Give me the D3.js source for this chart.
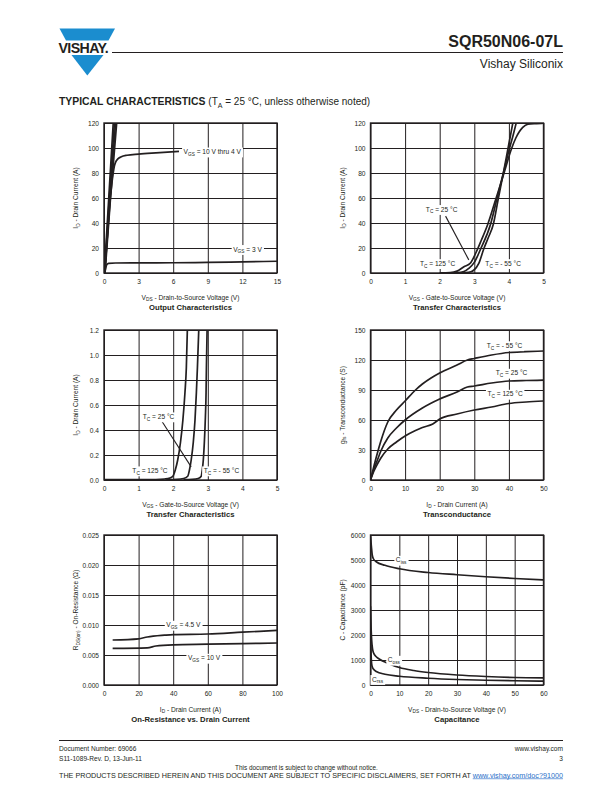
<!DOCTYPE html>
<html><head><meta charset="utf-8">
<script src="https://cdn.jsdelivr.net/npm/d3@7"></script>
<style>
html,body{margin:0;padding:0;background:#fff;}
svg{display:block;font-family:"Liberation Sans",Arial,Helvetica,sans-serif;}
</style></head><body>
<svg id="page" width="612" height="792"></svg>
<script>
// ---------- DATA ----------
// Chart 1: Output Characteristics
const outXTicks = [0, 3, 6, 9, 12, 15];
const outYTicks = [0, 20, 40, 60, 80, 100, 120];
const outVgs10 = [[0.03, 0], [0.4, 58], [0.8, 120]];
const outVgs8 = [[0.05, 0], [0.45, 58], [0.9, 120]];
const outVgs6 = [[0.07, 0], [0.5, 58], [1.0, 120]];
const outVgs5 = [[0.09, 0], [0.55, 58], [1.1, 120]];
const outVgs4 = [[0.05, 0], [0.3, 30], [0.55, 60], [0.7, 73], [0.8, 80], [0.9, 85.5], [1.0, 88.5], [1.2, 91.3], [1.5, 93], [2, 94.2], [3, 95.1], [4.5, 96.1], [6.5, 97.3]];
const outVgs3 = [[0.05, 0], [0.15, 4], [0.25, 6.8], [0.4, 7.7], [1, 8], [3, 8.1], [6, 8.2], [9, 8.5], [12, 8.9], [15, 9.4]];

// Chart 2: Transfer Characteristics (0-120 A)
const tr1XTicks = [0, 1, 2, 3, 4, 5];
const tr1YTicks = [0, 20, 40, 60, 80, 100, 120];
const tr1T125 = [[2.0, 0.2], [2.3, 0.4], [2.5, 1.5], [2.7, 5], [2.89, 8], [3.06, 17], [3.2, 26], [3.39, 39], [3.62, 59], [3.86, 80], [4.07, 99], [4.2, 108], [4.3, 113], [4.4, 116.5], [4.55, 119], [4.8, 119.5], [5, 119.8]];
const tr1T25 = [[2.2, 0.2], [2.5, 0.4], [2.7, 1.2], [2.84, 3.7], [3.0, 8.5], [3.18, 19], [3.47, 39], [3.65, 59], [3.84, 80], [4.01, 99], [4.12, 110], [4.22, 121]];
const tr1Tm55 = [[2.5, 0.2], [2.75, 0.4], [2.9, 1], [2.99, 2.4], [3.13, 7.7], [3.27, 19], [3.4, 28], [3.55, 39], [3.69, 59], [3.84, 80], [3.97, 99], [4.12, 121]];

// Chart 3: Transfer Characteristics (0-1.2 A)
const tr2XTicks = [0, 1, 2, 3, 4, 5];
const tr2YTicks = [0, 0.2, 0.4, 0.6, 0.8, 1.0, 1.2];
const tr2T125 = [[0, 0.004], [1.5, 0.004], [1.75, 0.008], [1.9, 0.015], [1.99, 0.03], [2.06, 0.08], [2.13, 0.16], [2.21, 0.3], [2.28, 0.48], [2.34, 0.7], [2.38, 0.9], [2.41, 1.21]];
const tr2T25 = [[1.8, 0.004], [2.1, 0.006], [2.3, 0.012], [2.42, 0.03], [2.47, 0.08], [2.52, 0.16], [2.58, 0.3], [2.63, 0.48], [2.67, 0.7], [2.70, 0.9], [2.74, 1.21]];
const tr2Tm55 = [[2.3, 0.004], [2.55, 0.006], [2.72, 0.012], [2.81, 0.03], [2.84, 0.08], [2.87, 0.16], [2.9, 0.3], [2.93, 0.5], [2.95, 0.7], [2.96, 0.9], [2.98, 1.21]];

// Chart 4: Transconductance
const gfsXTicks = [0, 10, 20, 30, 40, 50];
const gfsYTicks = [0, 30, 60, 90, 120, 150];
const gfsTm55 = [[0, 0], [1, 14], [2, 27], [3, 39], [5, 58], [7.5, 70], [10, 79], [13, 90], [15, 96], [17.5, 102], [20, 107], [25, 115], [28, 120], [30, 121.5], [35, 125], [40, 127.5], [45, 128.3], [50, 129]];
const gfsT25 = [[0, 0], [1, 11], [2, 20], [3, 29], [5, 42], [7.5, 52], [10, 60], [15, 72], [20, 81], [25, 88], [28, 93], [30, 94], [35, 97], [40, 99], [45, 99.5], [50, 99.8]];
const gfsT125 = [[0, 0], [1, 9], [2, 16], [3, 22], [5, 31], [7.5, 38], [10, 44], [13, 49.5], [15, 52.5], [18, 56], [20, 61], [25, 66], [30, 70], [35, 73], [40, 76.5], [45, 78], [50, 79]];

// Chart 5: On-Resistance vs. Drain Current
const ronXTicks = [0, 20, 40, 60, 80, 100];
const ronYTicks = [0, 0.005, 0.010, 0.015, 0.020, 0.025];
const ronVgs45 = [[5, 0.0075], [20, 0.0077], [25, 0.0080], [35, 0.0083], [40, 0.0084], [60, 0.0085], [80, 0.0088], [100, 0.0091]];
const ronVgs10 = [[5, 0.0061], [25, 0.0062], [30, 0.0065], [40, 0.0067], [60, 0.0068], [80, 0.0069], [100, 0.0070]];

// Chart 6: Capacitance
const capXTicks = [0, 10, 20, 30, 40, 50, 60];
const capYTicks = [0, 1000, 2000, 3000, 4000, 5000, 6000];
const capCiss = [[0, 5950], [0.3, 5550], [0.6, 5200], [1, 5050], [2, 4930], [5, 4790], [10, 4650], [20, 4500], [30, 4410], [40, 4330], [50, 4260], [60, 4200]];
const capCoss = [[0, 3150], [0.2, 2300], [0.4, 1800], [0.7, 1450], [1, 1300], [2, 1130], [3, 1040], [5, 920], [7, 820], [10, 700], [15, 580], [20, 500], [30, 400], [40, 340], [50, 300], [60, 285]];
const capCrss = [[0, 2000], [0.2, 1200], [0.4, 850], [0.7, 700], [1, 640], [2, 540], [5, 430], [10, 350], [20, 270], [30, 220], [40, 190], [50, 170], [60, 155]];

// ---------- DRAWING ----------
const INK = "#231f20";
const svg = d3.select("#page");

function parseRich(str) {
  const parts = [];
  const re = /_\{([^}]*)\}/g;
  let last = 0, m;
  while ((m = re.exec(str)) !== null) {
    if (m.index > last) parts.push([str.slice(last, m.index), false]);
    parts.push([m[1], true]);
    last = re.lastIndex;
  }
  if (last < str.length) parts.push([str.slice(last), false]);
  return parts;
}
function rich(textSel, str, size) {
  let inSub = false;
  parseRich(str).forEach(([s, isSub]) => {
    const ts = textSel.append("tspan").text(s);
    if (isSub) {
      ts.attr("font-size", size * 0.72);
      if (!inSub) ts.attr("dy", size * 0.28);
      inSub = true;
    } else {
      if (inSub) ts.attr("dy", -size * 0.28);
      inSub = false;
    }
  });
  return textSel;
}

let clipId = 0;
function makeChart(cfg) {
  const { x0, y0, W, H } = cfg;
  const x = d3.scaleLinear().domain(cfg.xDomain).range([x0, x0 + W]);
  const y = d3.scaleLinear().domain(cfg.yDomain).range([y0 + H, y0]);
  const g = svg.append("g");

  g.append("g").attr("transform", `translate(0,${y0 + H})`)
    .call(d3.axisBottom(x).tickValues(cfg.xTicks).tickSize(-H).tickPadding(6).tickFormat(cfg.xFmt || d3.format("d")))
    .call(a => {
      a.select(".domain").remove();
      a.selectAll("line").attr("stroke", INK).attr("stroke-width", 1);
      a.selectAll("text").attr("font-size", 6.6).attr("fill", INK).attr("font-family", "Liberation Sans, Arial, sans-serif");
    });
  g.append("g").attr("transform", `translate(${x0},0)`)
    .call(d3.axisLeft(y).tickValues(cfg.yTicks).tickSize(-W).tickPadding(5).tickFormat(cfg.yFmt || d3.format("d")))
    .call(a => {
      a.select(".domain").remove();
      a.selectAll("line").attr("stroke", INK).attr("stroke-width", 1);
      a.selectAll("text").attr("font-size", 6.6).attr("fill", INK).attr("font-family", "Liberation Sans, Arial, sans-serif");
    });

  const cid = "clip" + (clipId++);
  svg.append("clipPath").attr("id", cid).append("rect")
    .attr("x", x0).attr("y", y0).attr("width", W).attr("height", H);

  const line = d3.line().x(d => x(d[0])).y(d => y(d[1])).curve(d3.curveMonotoneX);
  g.append("g").attr("clip-path", `url(#${cid})`)
    .selectAll("path").data(cfg.series).join("path")
    .attr("d", d => line(d))
    .attr("fill", "none").attr("stroke", INK).attr("stroke-width", 1.7)
    .attr("stroke-linejoin", "round");

  (cfg.leaders || []).forEach(l => {
    g.append("line").attr("x1", x(l[0])).attr("y1", y(l[1])).attr("x2", x(l[2])).attr("y2", y(l[3]))
      .attr("stroke", INK).attr("stroke-width", 1.1);
  });

  g.append("rect").attr("x", x0).attr("y", y0).attr("width", W).attr("height", H)
    .attr("fill", "none").attr("stroke", INK).attr("stroke-width", 1.4);

  (cfg.labels || []).forEach(lb => {
    const lg = g.append("g");
    const t = lg.append("text").attr("x", x(lb.x)).attr("y", y(lb.y)).attr("dy", "0.35em")
      .attr("font-size", 6.6).attr("fill", INK).attr("text-anchor", lb.anchor || "start");
    rich(t, lb.text, 6.6);
    const bb = t.node().getBBox();
    lg.insert("rect", "text").attr("x", bb.x - 1.5).attr("y", bb.y - 0.5)
      .attr("width", bb.width + 3).attr("height", bb.height + 1).attr("fill", "#fff");
  });

  const xt = g.append("text").attr("x", x0 + W / 2).attr("y", y0 + H + 26.5)
    .attr("text-anchor", "middle").attr("font-size", 6.6).attr("fill", INK);
  rich(xt, cfg.xTitle, 6.6);
  const yt = g.append("text").attr("transform", `translate(${x0 - 26},${y0 + H / 2}) rotate(-90)`)
    .attr("text-anchor", "middle").attr("font-size", 6.6).attr("fill", INK);
  rich(yt, cfg.yTitle, 6.6);
  g.append("text").attr("x", x0 + W / 2).attr("y", y0 + H + 37)
    .attr("text-anchor", "middle").attr("font-size", 7.7).attr("font-weight", "bold").attr("fill", INK)
    .text(cfg.title);
}

const LX = 104, RX = 370.5, W = 173, H = 150;
const R1 = 123, R2 = 330, R3 = 535;

makeChart({
  x0: LX, y0: R1, W, H, xDomain: [0, 15], yDomain: [0, 120],
  xTicks: outXTicks, yTicks: outYTicks,
  series: [outVgs10, outVgs8, outVgs6, outVgs5, outVgs4, outVgs3],
  labels: [
    { x: 6.9, y: 97, text: "V_{GS} = 10 V thru 4 V" },
    { x: 11.2, y: 19, text: "V_{GS} = 3 V" }
  ],
  xTitle: "V_{DS} - Drain-to-Source Voltage (V)", yTitle: "I_{D} - Drain Current (A)",
  title: "Output Characteristics"
});

makeChart({
  x0: RX, y0: R1, W, H, xDomain: [0, 5], yDomain: [0, 120],
  xTicks: tr1XTicks, yTicks: tr1YTicks,
  series: [tr1T125, tr1T25, tr1Tm55],
  leaders: [[2.17, 45.5, 2.84, 10.5]],
  labels: [
    { x: 1.6, y: 51, text: "T_{C} = 25 °C" },
    { x: 1.43, y: 7.7, text: "T_{C} = 125 °C" },
    { x: 3.32, y: 7.7, text: "T_{C} = - 55 °C" }
  ],
  xTitle: "V_{GS} - Gate-to-Source Voltage (V)", yTitle: "I_{D} - Drain Current (A)",
  title: "Transfer Characteristics"
});

makeChart({
  x0: LX, y0: R2, W, H, xDomain: [0, 5], yDomain: [0, 1.2],
  xTicks: tr2XTicks, yTicks: tr2YTicks, yFmt: d3.format(".1f"),
  series: [tr2T125, tr2T25, tr2Tm55],
  leaders: [[1.65, 0.48, 2.52, 0.105]],
  labels: [
    { x: 1.12, y: 0.507, text: "T_{C} = 25 °C" },
    { x: 0.82, y: 0.075, text: "T_{C} = 125 °C" },
    { x: 2.88, y: 0.075, text: "T_{C} = - 55 °C" }
  ],
  xTitle: "V_{GS} - Gate-to-Source Voltage (V)", yTitle: "I_{D} - Drain Current (A)",
  title: "Transfer Characteristics"
});

makeChart({
  x0: RX, y0: R2, W, H, xDomain: [0, 50], yDomain: [0, 150],
  xTicks: gfsXTicks, yTicks: gfsYTicks,
  series: [gfsTm55, gfsT25, gfsT125],
  labels: [
    { x: 33.6, y: 134.5, text: "T_{C} = - 55 °C" },
    { x: 36.2, y: 107, text: "T_{C} = 25 °C" },
    { x: 33.8, y: 86, text: "T_{C} = 125 °C" }
  ],
  xTitle: "I_{D} - Drain Current (A)", yTitle: "g_{fs} - Transconductance (S)",
  title: "Transconductance"
});

makeChart({
  x0: LX, y0: R3, W, H, xDomain: [0, 100], yDomain: [0, 0.025],
  xTicks: ronXTicks, yTicks: ronYTicks, yFmt: d3.format(".3f"),
  series: [ronVgs45, ronVgs10],
  labels: [
    { x: 36, y: 0.01, text: "V_{GS} = 4.5 V" },
    { x: 48.5, y: 0.0045, text: "V_{GS} = 10 V" }
  ],
  xTitle: "I_{D} - Drain Current (A)", yTitle: "R_{DS(on)} - On-Resistance (Ω)",
  title: "On-Resistance vs. Drain Current"
});

makeChart({
  x0: RX, y0: R3, W, H, xDomain: [0, 60], yDomain: [0, 6000],
  xTicks: capXTicks, yTicks: capYTicks,
  series: [capCiss, capCoss, capCrss],
  labels: [
    { x: 8.8, y: 5000, text: "C_{iss}" },
    { x: 6.0, y: 1000, text: "C_{oss}" },
    { x: 0.5, y: 230, text: "C_{rss}" }
  ],
  xTitle: "V_{DS} - Drain-to-Source Voltage (V)", yTitle: "C - Capacitance (pF)",
  title: "Capacitance"
});

// ---------- HEADER ----------
const BLUE = "#1b8dcf";
const hdr = svg.append("g");
hdr.append("polygon").attr("points", "59.5,28.5 115,28.5 108.5,40.5 66,40.5").attr("fill", BLUE);
hdr.append("polygon").attr("points", "71.5,55 103.5,55 87.3,75.5").attr("fill", BLUE);
hdr.append("text").attr("x", 58.5).attr("y", 53).attr("font-size", 14.2).attr("font-weight", "bold")
  .attr("fill", INK).attr("letter-spacing", -0.6).text("VISHAY.");
hdr.append("text").attr("x", 563).attr("y", 47).attr("text-anchor", "end").attr("font-size", 16)
  .attr("font-weight", "bold").attr("fill", INK).text("SQR50N06-07L");
hdr.append("line").attr("x1", 112).attr("x2", 563).attr("y1", 52.5).attr("y2", 52.5)
  .attr("stroke", INK).attr("stroke-width", 1);
hdr.append("text").attr("x", 563).attr("y", 67.5).attr("text-anchor", "end").attr("font-size", 12)
  .attr("fill", INK).text("Vishay Siliconix");

const sec = svg.append("text").attr("x", 59).attr("y", 105).attr("fill", INK);
sec.append("tspan").attr("font-size", 10.4).attr("font-weight", "bold").text("TYPICAL CHARACTERISTICS ");
sec.append("tspan").attr("font-size", 10).text("(T");
sec.append("tspan").attr("font-size", 7).attr("dy", 2.5).text("A");
sec.append("tspan").attr("font-size", 10).attr("dy", -2.5).text(" = 25 °C, unless otherwise noted)");

// ---------- FOOTER ----------
const ft = svg.append("g").attr("fill", INK);
ft.append("line").attr("x1", 59).attr("x2", 563).attr("y1", 740.5).attr("y2", 740.5)
  .attr("stroke", INK).attr("stroke-width", 1);
ft.append("text").attr("x", 59).attr("y", 750.5).attr("font-size", 6.6).text("Document Number: 69066");
ft.append("text").attr("x", 59).attr("y", 760.5).attr("font-size", 6.6).text("S11-1089-Rev. D, 13-Jun-11");
ft.append("text").attr("x", 563).attr("y", 750.5).attr("font-size", 6.6).attr("text-anchor", "end").text("www.vishay.com");
ft.append("text").attr("x", 563).attr("y", 760.5).attr("font-size", 6.6).attr("text-anchor", "end").text("3");
ft.append("text").attr("x", 306.5).attr("y", 769.5).attr("font-size", 6.4).attr("text-anchor", "middle")
  .text("This document is subject to change without notice.");
const disc = ft.append("text").attr("x", 59).attr("y", 777.5).attr("font-size", 6.4)
  .attr("textLength", 504).attr("lengthAdjust", "spacingAndGlyphs");
disc.append("tspan").text("THE PRODUCTS DESCRIBED HEREIN AND THIS DOCUMENT ARE SUBJECT TO SPECIFIC DISCLAIMERS, SET FORTH AT ");
disc.append("tspan").attr("fill", "#2a6fc9").attr("text-decoration", "underline").text("www.vishay.com/doc?91000");
</script></body></html>
